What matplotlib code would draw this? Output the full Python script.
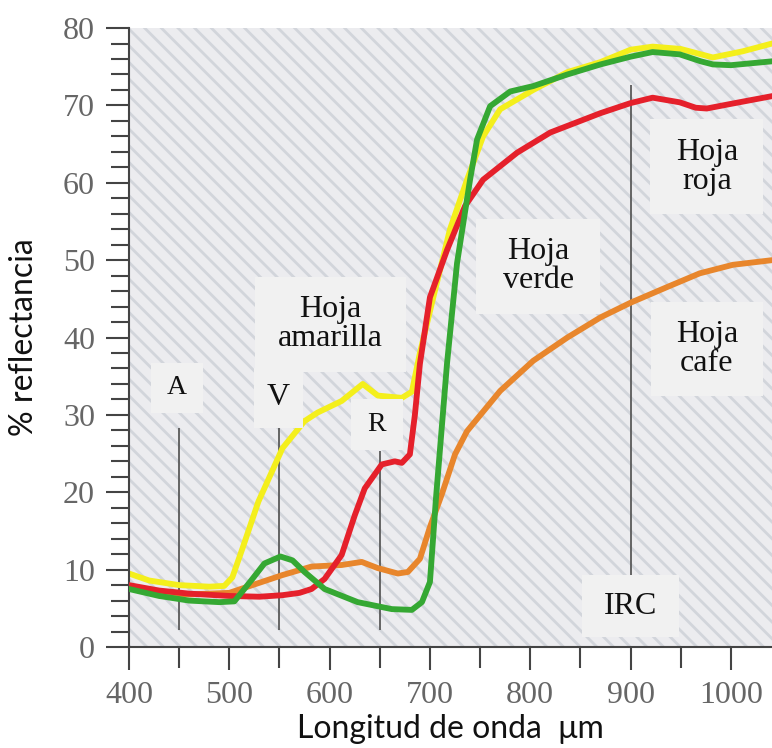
import matplotlib.pyplot as plt
from matplotlib.patches import Rectangle
from matplotlib.ticker import MultipleLocator

# wavelength (nm) and % reflectance, one pair per leaf
amarilla_x = [400, 420, 450, 480, 495, 503, 513, 529, 553, 575, 588, 612, 633, 648, 672, 682,
              690, 703, 720, 737, 753, 770, 803, 837, 870, 900, 922, 950, 982, 1012, 1041]
amarilla_y = [9.5, 8.6, 8.0, 7.8, 7.9, 9.0, 12.7, 18.8, 25.7, 29.2, 30.3, 31.8, 34.0, 32.5, 32.2, 33.0,
              38.0, 45.0, 54.0, 60.4, 66.0, 69.5, 72.0, 74.3, 75.6, 77.2, 77.6, 77.3, 76.2, 77.0, 78.0]

verde_x = [400, 430, 460, 490, 505, 515, 523, 535, 551, 563, 575, 595, 628, 662, 682, 692, 700,
           706, 717, 727, 740, 747, 760, 780, 803, 837, 870, 900, 922, 949, 970, 982, 1000, 1041]
verde_y = [7.5, 6.6, 6.0, 5.8, 5.9, 7.5, 8.8, 10.8, 11.7, 11.2, 9.7, 7.5, 5.8, 4.9, 4.8, 5.8, 8.4,
           19.2, 36.6, 49.6, 60.4, 65.6, 69.9, 71.8, 72.5, 74.0, 75.3, 76.3, 76.9, 76.6, 75.7, 75.3, 75.2, 75.7]

roja_x = [400, 430, 460, 500, 530, 553, 570, 582, 595, 612, 625, 635, 652, 665, 672, 680, 685,
          690, 700, 717, 735, 753, 787, 820, 870, 900, 922, 949, 965, 976, 1000, 1041]
roja_y = [8.0, 7.3, 6.9, 6.6, 6.5, 6.7, 7.0, 7.5, 8.8, 11.9, 17.0, 20.5, 23.6, 24.0, 23.8, 24.9, 30.0,
          36.6, 45.2, 51.3, 57.0, 60.4, 63.9, 66.5, 69.0, 70.3, 71.0, 70.4, 69.7, 69.6, 70.2, 71.2]

cafe_x = [400, 430, 460, 500, 523, 553, 582, 612, 632, 648, 668, 678, 690, 700, 712, 725, 737,
          770, 803, 837, 870, 900, 936, 969, 1002, 1041]
cafe_y = [7.6, 7.0, 6.8, 7.0, 8.0, 9.3, 10.4, 10.6, 11.0, 10.2, 9.5, 9.7, 11.4, 15.5, 19.8, 24.9, 27.9,
          33.1, 37.0, 40.0, 42.6, 44.5, 46.5, 48.3, 49.4, 50.0]

# band markers (A, V, R, IRC)
band_x = [450, 550, 650, 900]
band_top = [28.3, 28.3, 25.3, 72.7]

# labels: text, centre x, centre y, box width (nm), box height (%)
label_text = ["A", "V", "Hoja\namarilla", "R", "Hoja\nverde", "Hoja\nroja", "Hoja\ncafe", "IRC"]
label_x = [448, 549, 601, 647, 808, 976, 976, 900]
label_y = [33.5, 32.2, 41.7, 28.8, 49.2, 62.1, 38.5, 5.3]
label_w = [52, 48, 150, 52, 124, 113, 112, 96]
label_h = [6.5, 7.8, 12.2, 6.6, 12.2, 12.2, 12.1, 8.0]
label_size = [20, 23, 23, 20, 23, 23, 23, 23]

plt.rcParams["hatch.linewidth"] = 2.0

fig = plt.figure(figsize=(7.72, 7.48), dpi=100)
ax = fig.add_axes([0.1671, 0.135, 0.8329, 0.8275])

ax.add_patch(Rectangle((0, 0), 1, 1, transform=ax.transAxes, facecolor="#ececef",
                       edgecolor="#d2d5db", hatch="\\\\", lw=0, zorder=0))

ax.vlines(band_x, 2.2, band_top, color="#5a5a5a", lw=1.3, zorder=1)

lw = 4.2
ax.plot(amarilla_x, amarilla_y, color="#f4ef1c", lw=lw, solid_joinstyle="round", zorder=2)
ax.plot(cafe_x, cafe_y, color="#e8862c", lw=lw, solid_joinstyle="round", zorder=3)
ax.plot(roja_x, roja_y, color="#e5202b", lw=lw, solid_joinstyle="round", zorder=4)
ax.plot(verde_x, verde_y, color="#35a833", lw=lw, solid_joinstyle="round", zorder=5)

for txt, cx, cy, w, h, fs in zip(label_text, label_x, label_y, label_w, label_h, label_size):
    ax.add_patch(Rectangle((cx - w / 2, cy - h / 2), w, h, facecolor="#f1f1f1",
                           edgecolor="none", zorder=6))
    ax.text(cx, cy, txt, ha="center", va="center", fontsize=fs, family="Liberation Serif",
            color="#111111", linespacing=1.0, zorder=7)

ax.set_xlim(400, 1041)
ax.set_ylim(0, 80)
ax.xaxis.set_major_locator(MultipleLocator(100))
ax.xaxis.set_minor_locator(MultipleLocator(50))
ax.yaxis.set_major_locator(MultipleLocator(10))
ax.yaxis.set_minor_locator(MultipleLocator(2))

for side in ["top", "right"]:
    ax.spines[side].set_visible(False)
for side in ["left", "bottom"]:
    ax.spines[side].set_color("#444444")
    ax.spines[side].set_linewidth(1.5)

ax.tick_params(which="major", length=16.5, width=1.5, color="#444444", labelsize=23,
               labelcolor="#666666", pad=8)
ax.tick_params(which="minor", length=13, width=1.5, color="#444444")
ax.tick_params(axis="x", which="minor", length=15)
for lab in ax.get_xticklabels() + ax.get_yticklabels():
    lab.set_family("Liberation Serif")

ax.set_xlabel("Longitud de onda  μm", fontsize=23, family="Lato", color="#111111")
ax.set_ylabel("% reflectancia", fontsize=23, family="Lato", color="#111111")
ax.xaxis.label.set_verticalalignment("center")
ax.yaxis.label.set_verticalalignment("center")
ax.xaxis.set_label_coords(0.5, -0.132)
ax.yaxis.set_label_coords(-0.163, 0.5)

fig.savefig("out.png", dpi=100)
